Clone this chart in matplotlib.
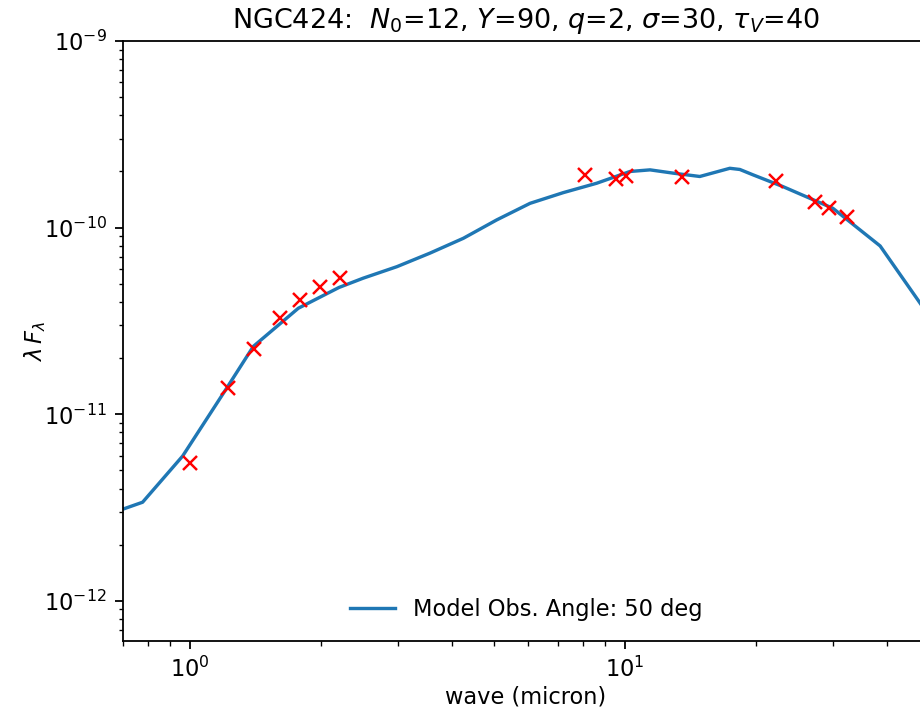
import numpy as np
from matplotlib import pyplot as plt

# model SED (wave in micron, lambda*F_lambda)
model_wave = [0.70, 0.778, 0.962, 1.214, 1.398, 1.774, 2.20, 2.50, 2.99, 3.56, 4.25,
              5.07, 6.05, 7.21, 8.61, 10.27, 11.42, 12.89, 14.86, 17.42, 18.37,
              19.68, 23.07, 30.06, 38.6, 47.7, 55.0]
model_flux = [3.10e-12, 3.38e-12, 5.98e-12, 1.38e-11, 2.31e-11, 3.70e-11, 4.78e-11,
              5.36e-11, 6.18e-11, 7.30e-11, 8.77e-11, 1.10e-10, 1.35e-10, 1.54e-10,
              1.73e-10, 2.00e-10, 2.04e-10, 1.96e-10, 1.88e-10, 2.08e-10, 2.05e-10,
              1.92e-10, 1.66e-10, 1.27e-10, 7.98e-11, 3.94e-11, 2.44e-11]

# observed photometry
obs_wave = [1.0, 1.22, 1.40, 1.61, 1.79, 1.99, 2.21, 8.09, 9.53, 10.05, 13.5,
            22.2, 27.3, 29.5, 32.4]
obs_flux = [5.5e-12, 1.38e-11, 2.24e-11, 3.28e-11, 4.1e-11, 4.81e-11, 5.38e-11,
            1.915e-10, 1.816e-10, 1.89e-10, 1.862e-10, 1.772e-10, 1.378e-10,
            1.27e-10, 1.145e-10]

DPI = 162
fig = plt.figure(figsize=(920/DPI, 712/DPI), dpi=DPI)
# axes runs a little past the right edge, like the cropped original
ax = fig.add_axes([0.1333, 0.0997, 0.8765, 0.8427])

ax.plot(model_wave, model_flux, label='Model Obs. Angle: 50 deg')
ax.plot(obs_wave, obs_flux, 'rx', markersize=6.5, markeredgewidth=1.1)

ax.set_xscale('log')
ax.set_yscale('log')
ax.set_xlim(0.7, 50)
ax.set_ylim(6.1e-13, 1e-9)
ax.spines['right'].set_visible(False)

ax.set_xlabel('wave (micron)', labelpad=1.5)
ax.set_ylabel(r'$\lambda\,F_\lambda$', labelpad=-2)
ax.set_title(r'NGC424:  $N_0$=12, $Y$=90, $q$=2, $\sigma$=30, $\tau_V$=40')
ax.legend(loc='lower center', frameon=False)

fig.savefig('out.png', dpi=DPI)
